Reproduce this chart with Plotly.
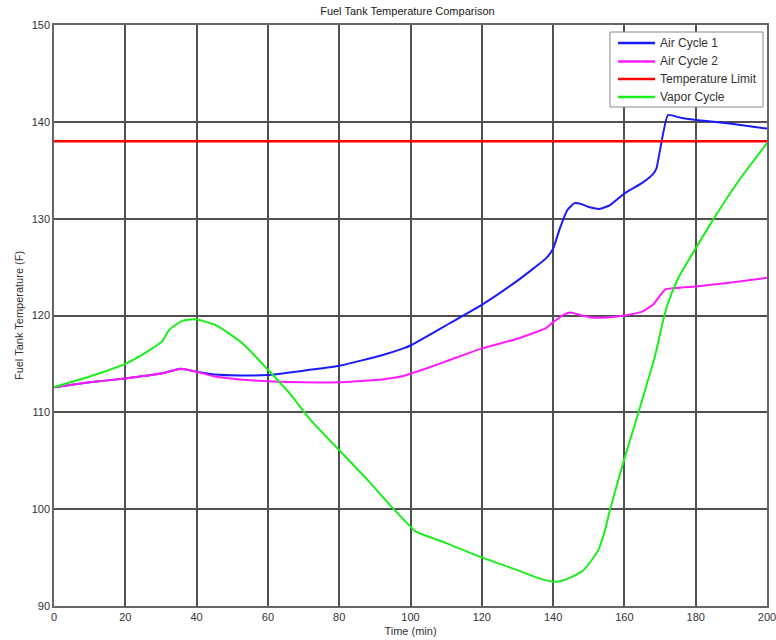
import plotly.graph_objects as go

# ---- data ----
t_air1 = [0, 10, 20, 30, 35.5, 40, 45, 52, 60, 69, 80, 92, 98, 100, 111, 120, 130, 138, 140, 142, 144, 146,
          148, 150, 153, 156, 160, 165, 168, 169, 172.2, 176, 180, 190, 200]
v_air1 = [112.6, 113.1, 113.5, 114.0, 114.5, 114.2, 113.9, 113.8, 113.85, 114.25, 114.8, 115.9, 116.6, 116.9,
          119.2, 121.1, 123.6, 125.9, 126.9, 129.1, 130.9, 131.6, 131.5, 131.2, 131.0, 131.4, 132.6, 133.7,
          134.6, 135.2, 140.7, 140.4, 140.2, 139.8, 139.3]

t_air2 = [0, 10, 20, 30, 35.5, 40, 45, 52, 60, 70, 80, 92, 98, 100, 105, 111, 120, 130, 138, 140, 143, 145,
          148, 151, 155, 160, 165, 168, 171.5, 180, 190, 200]
v_air2 = [112.6, 113.1, 113.5, 114.0, 114.5, 114.2, 113.7, 113.4, 113.2, 113.1, 113.1, 113.4, 113.75, 114.0,
          114.6, 115.4, 116.6, 117.6, 118.7, 119.3, 120.1, 120.3, 120.0, 119.8, 119.8, 120.0, 120.4, 121.1,
          122.7, 123.0, 123.4, 123.9]

t_limit = [0, 200]
v_limit = [138, 138]

t_vapor = [0, 10, 20, 26.7, 30.4, 32.3, 36, 39.5, 45.4, 52.9, 60, 66, 72, 80, 88, 95.3, 100, 101.4, 110, 119.4,
           130, 136.5, 140.8, 144, 148.5, 152.7, 154.6, 156, 160, 164.2, 167, 168.5, 171.8, 175, 179.3, 184.9,
           192.4, 200]
v_vapor = [112.6, 113.7, 115.0, 116.4, 117.35, 118.5, 119.45, 119.6, 119.0, 117.1, 114.4, 112.0, 109.2, 106.1,
           103.0, 100.0, 98.2, 97.7, 96.5, 95.1, 93.7, 92.8, 92.5, 92.8, 93.7, 95.8, 97.9, 100.0, 105.2, 110.3,
           113.8, 115.7, 120.8, 123.8, 126.5, 129.9, 134.1, 137.8]

series_names = ["Air Cycle 1", "Air Cycle 2", "Temperature Limit", "Vapor Cycle"]
series_colors = ["#1a1aff", "#ff1aff", "#ff0000", "#1aee1a"]

x_ticks = [0, 20, 40, 60, 80, 100, 120, 140, 160, 180, 200]
y_ticks = [90, 100, 110, 120, 130, 140, 150]

FONT = "Liberation Sans, Arial, sans-serif"

# plot-area geometry in pixels (for the hand-drawn legend box)
L, R, T, B = 54, 767, 25, 606
def px(xp):
    return (xp - L) / (R - L)
def py(yp):
    return (B - yp) / (B - T)

fig = go.Figure()
fig.add_trace(go.Scatter(x=t_air1, y=v_air1, mode="lines", name=series_names[0],
                         line=dict(color=series_colors[0], width=2, shape="spline", smoothing=0.4)))
fig.add_trace(go.Scatter(x=t_air2, y=v_air2, mode="lines", name=series_names[1],
                         line=dict(color=series_colors[1], width=2, shape="spline", smoothing=0.4)))
fig.add_trace(go.Scatter(x=t_limit, y=v_limit, mode="lines", name=series_names[2],
                         line=dict(color=series_colors[2], width=2.5)))
fig.add_trace(go.Scatter(x=t_vapor, y=v_vapor, mode="lines", name=series_names[3],
                         line=dict(color=series_colors[3], width=2, shape="spline", smoothing=0.6)))

# legend (MATLAB-style compact box)
shapes = [dict(type="rect", xref="paper", yref="paper", x0=px(610), x1=px(763), y0=py(107), y1=py(32),
               fillcolor="white", line=dict(color="#888", width=1), layer="above")]
annotations = []
row_y = [43, 61.5, 79, 97]
for name, color, yy in zip(series_names, series_colors, row_y):
    shapes.append(dict(type="line", xref="paper", yref="paper", x0=px(618), x1=px(655), y0=py(yy), y1=py(yy),
                       line=dict(color=color, width=2.5), layer="above"))
    annotations.append(dict(xref="paper", yref="paper", x=px(658), y=py(yy), xanchor="left", yanchor="middle",
                            text=name, showarrow=False, font=dict(size=12, color="#333")))

fig.update_layout(
    width=776, height=640,
    margin=dict(l=L, r=776 - R, t=T, b=640 - B),
    paper_bgcolor="white", plot_bgcolor="white",
    font=dict(family=FONT, size=11, color="#333"),
    title=dict(text="Fuel Tank Temperature Comparison", x=0.525, xanchor="center",
               y=0.982, yanchor="middle", font=dict(size=11, color="#222")),
    showlegend=False,
    shapes=shapes, annotations=annotations,
)
fig.update_xaxes(range=[0, 200], tickvals=x_ticks, showgrid=True, gridcolor="#505050", gridwidth=1.5,
                 zeroline=False, showline=True, linecolor="#666", linewidth=1.5, mirror=True,
                 ticks="inside", ticklen=3, tickcolor="#555", automargin=False, ticklabeloverflow="allow",
                 title=dict(text="Time (min)", standoff=5, font=dict(size=11, color="#333")))
fig.update_yaxes(range=[90, 150], tickvals=y_ticks, showgrid=True, gridcolor="#505050", gridwidth=1.5,
                 zeroline=False, showline=True, linecolor="#666", linewidth=1.5, mirror=True,
                 ticks="inside", ticklen=3, tickcolor="#555", automargin=False, ticklabeloverflow="allow",
                 title=dict(text="Fuel Tank Temperature (F)", standoff=6, font=dict(size=11, color="#333")))

fig.write_html("out.html")
